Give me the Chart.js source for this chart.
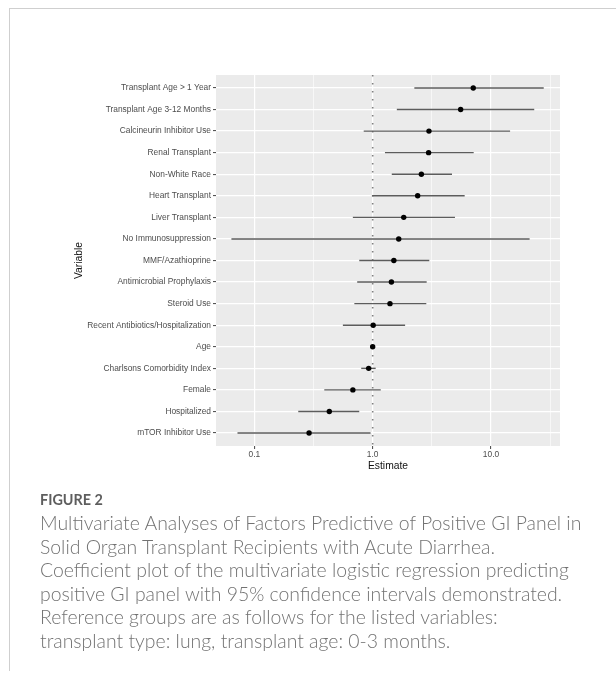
<!DOCTYPE html>
<html>
<head>
<meta charset="utf-8">
<script src="https://cdn.jsdelivr.net/npm/chart.js@4"></script>
<style>
  html, body { margin:0; padding:0; background:#fff; width:616px; height:677px; overflow:hidden; }
  #frame { position:absolute; left:9px; top:8px; width:620px; height:662px; border-left:1px solid #cfcfcf; border-top:1px solid #cfcfcf; }
  #wrap { position:absolute; left:0; top:0; width:616px; height:490px; }
  .cap { position:absolute; left:40px; white-space:nowrap; color:#727272; font-family:Lato, "Open Sans", sans-serif; font-weight:300; }
  #fig { font-weight:700; color:#5e5e5e; }
</style>
</head>
<body>
<div id="frame"></div>
<div id="wrap"><canvas id="c" width="616" height="490"></canvas></div>
<div class="cap" id="fig">FIGURE 2</div>
<div class="cap line">Multivariate Analyses of Factors Predictive of Positive GI Panel in</div>
<div class="cap line">Solid Organ Transplant Recipients with Acute Diarrhea.</div>
<div class="cap line">Coefficient plot of the multivariate logistic regression predicting</div>
<div class="cap line">positive GI panel with 95% confidence intervals demonstrated.</div>
<div class="cap line">Reference groups are as follows for the listed variables:</div>
<div class="cap line">transplant type: lung, transplant age: 0-3 months.</div>
<script>
// ---- data ----
const variables = ["Transplant Age > 1 Year","Transplant Age 3-12 Months","Calcineurin Inhibitor Use","Renal Transplant","Non-White Race","Heart Transplant","Liver Transplant","No Immunosuppression","MMF/Azathioprine","Antimicrobial Prophylaxis","Steroid Use","Recent Antibiotics/Hospitalization","Age","Charlsons Comorbidity Index","Female","Hospitalized","mTOR Inhibitor Use"];
const estimate = [7.08,5.54,2.99,2.97,2.58,2.40,1.83,1.66,1.51,1.44,1.40,1.01,1.00,0.925,0.68,0.43,0.29];
const lower    = [2.25,1.60,0.84,1.27,1.45,0.99,0.68,0.064,0.77,0.74,0.70,0.56,0.99,0.80,0.39,0.235,0.072];
const upper    = [27.9,23.2,14.5,7.14,4.68,5.99,4.96,21.2,3.01,2.86,2.84,1.88,1.01,1.06,1.17,0.77,0.96];
const xTickValues = [0.1, 1, 10];
const xTickLabels = ["0.1", "1.0", "10.0"];
const xMinorGrid = [0.316, 3.16, 31.6];
const refValue = 1;
const xRange = [0.0474, 38.3];

// ---- caption fitting ----
(function(){
  const cv = document.createElement('canvas').getContext('2d');
  const lines = document.querySelectorAll('.cap.line');
  cv.font = '300 100px Lato';
  const w = cv.measureText(lines[0].textContent).width;
  const fs = 100 * 543 / w;
  const centers = [523, 546.5, 570, 593.5, 617, 640.5];
  lines.forEach((el, i) => {
    el.style.fontSize = fs + 'px';
    el.style.lineHeight = '24px';
    el.style.top = (centers[i] - 12) + 'px';
  });
  const fig = document.getElementById('fig');
  cv.font = '700 100px Lato';
  const fw = cv.measureText('FIGURE 2').width;
  fig.style.fontSize = (100 * 63 / fw) + 'px';
  fig.style.lineHeight = '24px';
  fig.style.top = (500 - 12) + 'px';
})();

// ---- chart ----
const n = variables.length;
const errDatasets = variables.map((v, i) => ({
  type: 'line',
  data: [{x: lower[i], y: i}, {x: upper[i], y: i}],
  borderColor: '#5c5c5c',
  borderWidth: 1.4,
  pointRadius: 0,
  order: 1
}));

const panelBg = {
  id: 'panelBg',
  beforeDraw(chart) {
    const a = chart.chartArea, ctx = chart.ctx;
    ctx.save();
    ctx.fillStyle = '#EBEBEB';
    ctx.fillRect(a.left, a.top, a.right - a.left, a.bottom - a.top);
    ctx.restore();
  }
};

const tickSet = xTickValues.concat(xMinorGrid).sort((a, b) => a - b);

new Chart(document.getElementById('c'), {
  type: 'scatter',
  data: {
    datasets: [
      {
        type: 'scatter',
        data: estimate.map((e, i) => ({x: e, y: i})),
        backgroundColor: '#000',
        borderColor: '#000',
        pointRadius: 2.7,
        borderWidth: 0,
        order: 0
      },
      ...errDatasets,
      {
        type: 'line',
        data: [{x: refValue, y: -0.6}, {x: refValue, y: n - 1 + 0.6}],
        borderColor: '#808080',
        borderWidth: 1.6,
        borderDash: [1.6, 6.4],
        pointRadius: 0,
        order: 2
      }
    ]
  },
  options: {
    responsive: false,
    animation: false,
    events: [],
    layout: { padding: { left: 0, top: 75, right: 56, bottom: 16 } },
    plugins: { legend: { display: false }, tooltip: { enabled: false } },
    scales: {
      x: {
        type: 'logarithmic',
        min: xRange[0],
        max: xRange[1],
        afterBuildTicks(scale) { scale.ticks = tickSet.map(v => ({ value: v, major: xTickValues.includes(v) })); },
        afterFit(scale) { scale.height = 28; },
        border: { display: false },
        grid: {
          color: '#ffffff',
          lineWidth: (ctx) => (ctx.tick && xTickValues.includes(ctx.tick.value)) ? 1.2 : 0.6,
          tickColor: (ctx) => (ctx.tick && xTickValues.includes(ctx.tick.value)) ? '#444' : 'rgba(0,0,0,0)',
          tickLength: 3,
          tickWidth: 1
        },
        ticks: {
          autoSkip: false,
          maxRotation: 0,
          padding: 1,
          color: '#4d4d4d',
          font: { family: '"Liberation Sans", Arial, sans-serif', size: 8.4 },
          callback: (v) => { const k = xTickValues.indexOf(v); return k >= 0 ? xTickLabels[k] : ''; }
        },
        title: {
          display: true,
          text: 'Estimate',
          color: '#111',
          font: { family: '"Liberation Sans", Arial, sans-serif', size: 10.3 },
          padding: { top: 0, bottom: 2 }
        }
      },
      y: {
        type: 'linear',
        reverse: true,
        min: -0.6,
        max: n - 1 + 0.6,
        afterBuildTicks(scale) { scale.ticks = variables.map((_, i) => ({ value: i })); },
        afterFit(scale) { scale.width = 216; },
        border: { display: false },
        grid: {
          color: '#ffffff',
          lineWidth: 1.2,
          tickColor: '#444',
          tickLength: 3,
          tickWidth: 1
        },
        ticks: {
          autoSkip: false,
          padding: 2,
          color: '#4d4d4d',
          font: { family: '"Liberation Sans", Arial, sans-serif', size: 8.4 },
          callback: (v) => variables[v] !== undefined ? variables[v] : ''
        },
        title: {
          display: true,
          text: 'Variable',
          color: '#111',
          font: { family: '"Liberation Sans", Arial, sans-serif', size: 10.3 },
          padding: { top: 73, bottom: 0 }
        }
      }
    }
  },
  plugins: [panelBg]
});
</script>
</body>
</html>
